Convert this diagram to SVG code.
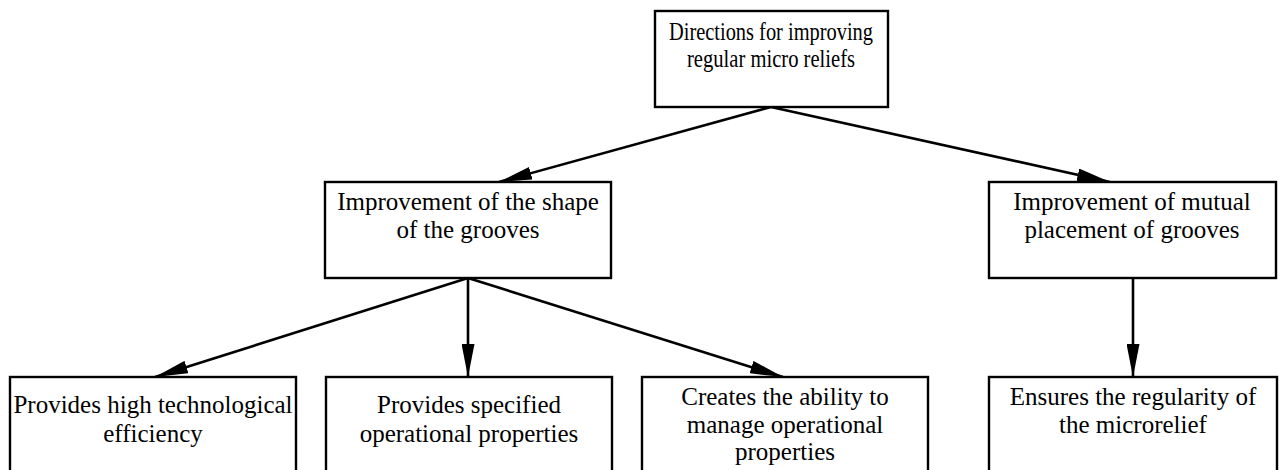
<svg xmlns="http://www.w3.org/2000/svg" width="1279" height="470" viewBox="0 0 1279 470">
<style>
.box{fill:#fff;stroke:#000;stroke-width:2.4}
.t{font-family:"Liberation Serif","Times New Roman",serif;font-size:25px;fill:#000;text-anchor:middle}
.tt{font-size:26px}
.c{stroke:#000;stroke-width:2.6;fill:none;marker-end:url(#ah)}
</style>
<defs>
<marker id="ah" markerUnits="userSpaceOnUse" markerWidth="33" markerHeight="13" refX="33" refY="6.5" orient="auto">
<path d="M0,0 L33,6.5 L0,13 z" fill="#000"/>
</marker>
</defs>
<rect width="1279" height="470" fill="#fff"/>
<g id="connectors">
<line class="c" x1="771" y1="107" x2="499" y2="182"/>
<line class="c" x1="771" y1="107" x2="1110" y2="182"/>
<line class="c" x1="468" y1="278" x2="155" y2="377"/>
<line class="c" x1="468" y1="278" x2="468" y2="377"/>
<line class="c" x1="468" y1="278" x2="783" y2="377"/>
<line class="c" x1="1133" y1="278" x2="1133" y2="377"/>
</g>
<g id="root">
<rect class="box" x="655" y="11" width="233" height="96"/>
<text class="t tt" x="771" y="40" textLength="204" lengthAdjust="spacingAndGlyphs">Directions for improving</text>
<text class="t tt" x="771" y="67" textLength="168" lengthAdjust="spacingAndGlyphs">regular micro reliefs</text>
</g>
<g id="shape">
<rect class="box" x="325" y="182" width="286" height="96"/>
<text class="t" x="468" y="210">Improvement of the shape</text>
<text class="t" x="468" y="238">of the grooves</text>
</g>
<g id="placement">
<rect class="box" x="989" y="182" width="287" height="96"/>
<text class="t" x="1132" y="210">Improvement of mutual</text>
<text class="t" x="1132" y="238">placement of grooves</text>
</g>
<g id="efficiency">
<rect class="box" x="10" y="377" width="286" height="120"/>
<text class="t" x="153" y="413">Provides high technological</text>
<text class="t" x="153" y="442">efficiency</text>
</g>
<g id="specified">
<rect class="box" x="326" y="377" width="286" height="120"/>
<text class="t" x="469" y="413">Provides specified</text>
<text class="t" x="469" y="442">operational properties</text>
</g>
<g id="manage">
<rect class="box" x="642" y="377" width="286" height="120"/>
<text class="t" x="785" y="405">Creates the ability to</text>
<text class="t" x="785" y="433">manage operational</text>
<text class="t" x="785" y="460">properties</text>
</g>
<g id="regularity">
<rect class="box" x="989" y="377" width="288" height="120"/>
<text class="t" x="1133" y="405">Ensures the regularity of</text>
<text class="t" x="1133" y="433">the microrelief</text>
</g>
</svg>
